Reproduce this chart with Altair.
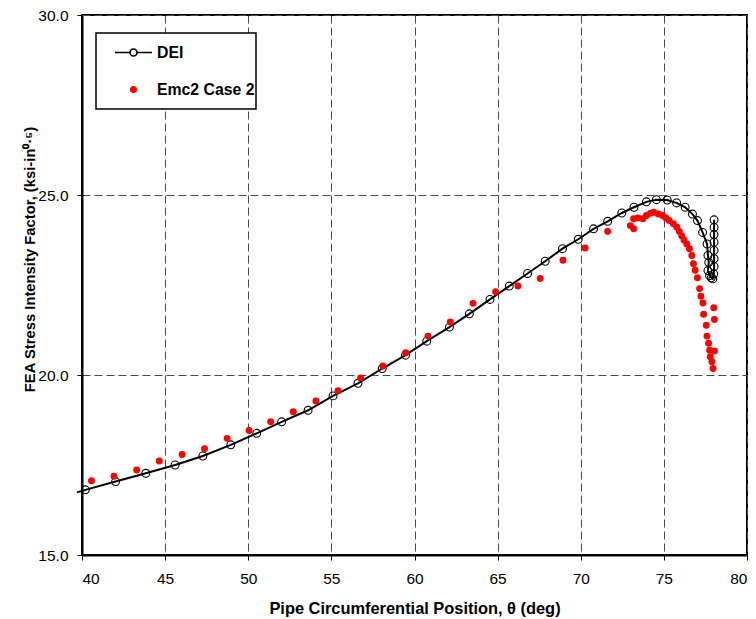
import altair as alt
import pandas as pd

# ---- data ----
dei_theta = [40.2, 42.02, 43.84, 45.6, 47.27, 48.95, 50.51, 52.01, 53.6, 55.1,
             56.6, 58.06, 59.46, 60.74, 62.1, 63.3, 64.54, 65.7, 66.8, 67.86,
             68.9, 69.85, 70.77, 71.62, 72.47, 73.2, 73.95, 74.55, 75.2, 75.77,
             76.28, 76.72, 77.02, 77.33, 77.6, 77.65, 77.7, 77.65, 77.75, 77.85,
             77.94, 78.0, 78.02, 78.02, 78.02, 78.02, 78.02, 78.02, 78.02]
dei_k = [16.81, 17.04, 17.27, 17.50, 17.75, 18.06, 18.38, 18.70, 19.02, 19.42,
         19.77, 20.18, 20.55, 20.94, 21.33, 21.70, 22.10, 22.47, 22.82, 23.16,
         23.51, 23.77, 24.06, 24.27, 24.50, 24.66, 24.81, 24.87, 24.86, 24.78,
         24.66, 24.47, 24.29, 23.96, 23.64, 23.32, 23.13, 22.90, 22.76, 22.70,
         22.67, 22.81, 23.01, 23.23, 23.46, 23.69, 23.90, 24.10, 24.31]
# the DEI curve starts just left of the axis (line only, no visible marker)
dei_lead_theta = [39.7]
dei_lead_k = [16.74]

emc_theta = [40.57, 41.92, 43.29, 44.65, 46.02, 47.37, 48.73, 50.05, 51.35, 52.71,
             54.07, 55.4, 56.76, 58.1, 59.47, 60.81, 62.15, 63.52, 64.88, 66.22,
             67.56, 68.93, 70.26, 71.62, 72.98, 73.18, 73.18, 73.44, 73.74, 73.95,
             74.19, 74.39, 74.66, 74.92, 75.12, 75.32, 75.57, 75.77, 75.93, 76.07,
             76.21, 76.38, 76.54, 76.68, 76.78, 76.88, 77.02, 77.15, 77.23, 77.35,
             77.39, 77.55, 77.59, 77.69, 77.75, 77.79, 77.89, 77.96, 78.0, 78.04,
             78.04]
emc_k = [17.06, 17.19, 17.36, 17.61, 17.79, 17.95, 18.24, 18.46, 18.70, 18.98,
         19.28, 19.56, 19.92, 20.25, 20.62, 21.08, 21.47, 21.99, 22.31, 22.47,
         22.68, 23.19, 23.53, 23.99, 24.15, 24.06, 24.34, 24.36, 24.34, 24.43,
         24.49, 24.52, 24.47, 24.43, 24.36, 24.29, 24.20, 24.11, 23.99, 23.87,
         23.75, 23.64, 23.51, 23.32, 23.09, 22.91, 22.70, 22.40, 22.19, 22.00,
         21.69, 21.38, 21.08, 20.88, 20.69, 20.51, 20.37, 20.18, 21.87, 21.54,
         20.67]

series_names = ["DEI", "Emc2 Case 2"]
x_ticks = [40, 45, 50, 55, 60, 65, 70, 75, 80]
y_ticks = [15, 20, 25, 30]

dei = pd.DataFrame({"theta": dei_theta, "K": dei_k, "series": series_names[0]})
line_theta = dei_lead_theta + dei_theta
line_k = dei_lead_k + dei_k
dei_line = pd.DataFrame({"theta": line_theta, "K": line_k,
                         "idx": list(range(len(line_theta)))})
emc = pd.DataFrame({"theta": emc_theta, "K": emc_k, "series": series_names[1]})
legend_df = pd.DataFrame({"series": series_names})

FONT = "Liberation Sans"

x_enc = alt.X(
    "theta:Q",
    scale=alt.Scale(domain=[40, 80], nice=False, zero=False),
    axis=alt.Axis(values=x_ticks, format="d",
                  title="Pipe Circumferential Position, θ (deg)",
                  labelPadding=11, titleY=53, titleBaseline="middle",
                  titleFontSize=16.4),
)
y_enc = alt.Y(
    "K:Q",
    scale=alt.Scale(domain=[15, 30], nice=False, zero=False),
    axis=alt.Axis(values=y_ticks, format=".1f",
                  title="FEA Stress Intensity Factor, (ksi-in⁰·⁵)",
                  labelPadding=9, titleX=-52, titleY=244,
                  titleAngle=270, titleBaseline="middle", titleAlign="center",
                  titleFontSize=14.8),
)

# legend symbols: line-with-open-circle for DEI, small filled dot for Emc2
DEI_PATH = "M-1,0L-0.19,0M0.19,0L1,0M-0.19,0A0.19,0.19,0,1,1,0.19,0A0.19,0.19,0,1,1,-0.19,0"
DOT_PATH = "M-0.15,0A0.15,0.15,0,1,1,0.15,0A0.15,0.15,0,1,1,-0.15,0"

legend = alt.Legend(
    title=None, orient="none", legendX=14, legendY=18,
    strokeColor="black", fillColor="white",
    padding=1, rowPadding=0, clipHeight=37, symbolOffset=17, labelOffset=4,
    symbolSize=1369, symbolStrokeWidth=1.7, symbolOpacity=1,
    labelFont=FONT, labelFontSize=15.8, labelFontWeight="bold", labelColor="black",
    labelExpr="datum.label + '\u00a0\u00a0'",
)

line = alt.Chart(dei_line).mark_line(color="black", strokeWidth=2, clip=False).encode(
    x=x_enc, y=y_enc, order="idx:Q")
circles = alt.Chart(dei).mark_point(
    shape="circle", filled=False, color="black", size=62, strokeWidth=1.1, opacity=1
).encode(x=x_enc, y=y_enc)
dots = alt.Chart(emc).mark_point(
    shape="circle", filled=True, color="red", size=48, opacity=1
).encode(x=x_enc, y=y_enc)

legend_layer = alt.Chart(legend_df).transform_filter("false").mark_point(opacity=1).encode(
    shape=alt.Shape("series:N", scale=alt.Scale(domain=series_names, range=[DEI_PATH, DOT_PATH]),
                    legend=legend),
    fill=alt.Fill("series:N", scale=alt.Scale(domain=series_names, range=["white", "red"]),
                  legend=legend),
    stroke=alt.Stroke("series:N", scale=alt.Scale(domain=series_names, range=["black", "red"]),
                      legend=legend),
)

chart = alt.layer(line, circles, dots, legend_layer).properties(
    width=665, height=540,
    padding={"left": 82, "top": 15, "right": 9, "bottom": 64},
    autosize=alt.AutoSizeParams(type="none"),
    background="white",
).configure_view(
    stroke="black", strokeWidth=2
).configure_axis(
    domainColor="black", domainWidth=2,
    tickColor="black", tickWidth=1, tickSize=5,
    labelColor="black", labelFont=FONT, labelFontSize=15.5,
    titleColor="black", titleFont=FONT, titleFontWeight="bold",
    grid=True, gridColor="#4a4a4a", gridDash=[8, 4], gridWidth=1,
).configure_legend(
    strokeWidth=1.5
)

chart.save("out.html", embed_options={"renderer": "svg", "actions": False})
